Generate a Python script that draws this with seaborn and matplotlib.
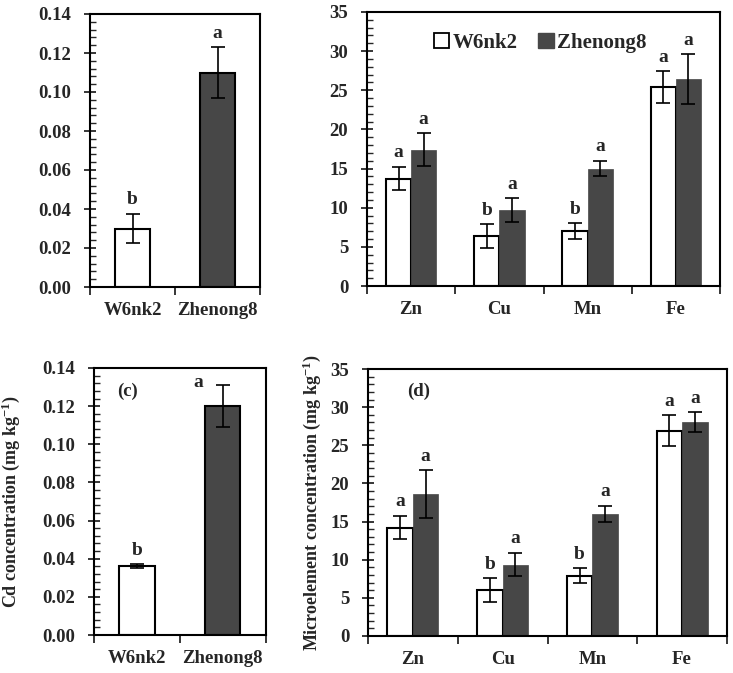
import numpy as np
import pandas as pd
import seaborn as sns
import matplotlib.pyplot as plt
from matplotlib.ticker import MultipleLocator, FormatStrFormatter
from matplotlib.patches import Patch

# cultivars and elements
cultivars = ["W6nk2", "Zhenong8"]
elements = ["Zn", "Cu", "Mn", "Fe"]

# (a) Cd, top-left
cd_a = [0.030, 0.110]
cd_a_err = [0.0075, 0.013]
cd_a_sig = ["b", "a"]

# (b) microelements, top-right
w6_b = [13.7, 6.4, 7.0, 25.4]
w6_b_err = [1.5, 1.5, 1.0, 2.0]
zh_b = [17.4, 9.7, 15.0, 26.4]
zh_b_err = [2.1, 1.5, 1.0, 3.2]
w6_b_sig = ["a", "b", "b", "a"]
zh_b_sig = ["a", "a", "a", "a"]

# (c) Cd, bottom-left
cd_c = [0.036, 0.120]
cd_c_err = [0.001, 0.011]
cd_c_sig = ["b", "a"]

# (d) microelements, bottom-right
w6_d = [14.2, 6.0, 7.9, 26.9]
w6_d_err = [1.55, 1.55, 1.0, 2.05]
zh_d = [18.6, 9.35, 16.0, 28.0]
zh_d_err = [3.1, 1.55, 1.05, 1.3]
w6_d_sig = ["a", "b", "b", "a"]
zh_d_sig = ["a", "a", "a", "a"]

WHITE = "#ffffff"
DARK = "#474747"

sns.set_style("ticks")
plt.rcParams["font.family"] = ["Liberation Serif", "DejaVu Serif"]
plt.rcParams["font.weight"] = "bold"
plt.rcParams["mathtext.fontset"] = "custom"
plt.rcParams["mathtext.rm"] = "Liberation Serif:bold"
plt.rcParams["mathtext.it"] = "Liberation Serif:bold"
plt.rcParams["mathtext.bf"] = "Liberation Serif:bold"
plt.rcParams["axes.linewidth"] = 1.5

FS = 13.5


def style_axes(ax, ncat, ymax, ystep, yminor, fmt):
    ax.set_xlim(-0.5, ncat - 0.5)
    ax.set_ylim(0, ymax)
    for s in ax.spines.values():
        s.set_visible(True)
        s.set_color("black")
        s.set_linewidth(1.5)
    ax.yaxis.set_major_locator(MultipleLocator(ystep))
    ax.yaxis.set_minor_locator(MultipleLocator(yminor))
    ax.yaxis.set_major_formatter(FormatStrFormatter(fmt))
    ax.tick_params(axis="y", which="major", direction="inout", length=9, width=1.3,
                   labelsize=FS, pad=9, right=False)
    ax.tick_params(axis="y", which="minor", direction="in", length=4, width=1.0, right=False)
    # x: boundary ticks, labels on minor ticks at the category centres
    ax.set_xticks(np.arange(-0.5, ncat, 1.0))
    ax.set_xticklabels([])
    ax.set_xticks(np.arange(ncat), minor=True)
    ax.tick_params(axis="x", which="major", direction="out", length=6, width=1.3, top=False)
    ax.tick_params(axis="x", which="minor", length=0, labelsize=FS, pad=11, top=False)
    ax.set_xlabel("")
    ax.set_ylabel("")
    for lab in ax.get_yticklabels() + ax.get_xticklabels(minor=True):
        lab.set_fontweight("bold")


def add_err_and_letters(ax, bars, vals, errs, sigs, ymax):
    for b, v, e, s in zip(bars, vals, errs, sigs):
        xc = b.get_x() + b.get_width() / 2
        ax.errorbar(xc, v, yerr=e, fmt="none", ecolor="black", elinewidth=1.2,
                    capsize=5, capthick=1.2, zorder=5)
        if v + e > 0.9 * ymax:
            # no room above the bar: put the letter to the left of the cap
            ax.annotate(s, (xc, ymax), xytext=(-18, -4), textcoords="offset points",
                        ha="center", va="top", fontsize=FS + 0.5, fontweight="bold")
        else:
            ax.annotate(s, (xc, v + e), xytext=(0, 4), textcoords="offset points",
                        ha="center", va="bottom", fontsize=FS + 0.5, fontweight="bold")


def cd_panel(ax, vals, errs, sigs):
    df = pd.DataFrame({"cultivar": cultivars, "cd": vals})
    sns.barplot(data=df, x="cultivar", y="cd", hue="cultivar", order=cultivars,
                hue_order=cultivars, palette=[WHITE, DARK], width=0.41,
                edgecolor="black", linewidth=1.5, legend=False, errorbar=None, ax=ax)
    bars = [c[0] for c in ax.containers]
    add_err_and_letters(ax, bars, vals, errs, sigs, 0.14)
    style_axes(ax, 2, 0.14, 0.02, 0.004, "%.2f")
    ax.set_xticklabels(cultivars, minor=True, fontweight="bold")


def micro_panel(ax, w6, w6e, zh, zhe, w6s, zhs):
    df = pd.DataFrame({
        "element": elements * 2,
        "cultivar": [cultivars[0]] * 4 + [cultivars[1]] * 4,
        "conc": w6 + zh,
    })
    sns.barplot(data=df, x="element", y="conc", hue="cultivar", order=elements,
                hue_order=cultivars, palette=[WHITE, DARK], width=0.57, gap=0,
                errorbar=None, legend=False, ax=ax)
    white_bars, dark_bars = ax.containers[0], ax.containers[1]
    for b in white_bars:
        b.set_edgecolor("black")
        b.set_linewidth(1.5)
    for b in dark_bars:
        b.set_edgecolor(DARK)
        b.set_linewidth(0.5)
    add_err_and_letters(ax, white_bars, w6, w6e, w6s, 35)
    add_err_and_letters(ax, dark_bars, zh, zhe, zhs, 35)
    style_axes(ax, 4, 35, 5, 1, "%d")
    ax.set_xticklabels(elements, minor=True, fontweight="bold")


fig = plt.figure(figsize=(7.33, 6.73), dpi=100)
W, H = 733.0, 673.0


def add_ax(l, r, t, b):
    return fig.add_axes([l / W, 1 - b / H, (r - l) / W, (b - t) / H])


ax_a = add_ax(90, 260, 14, 287)
ax_b = add_ax(367, 720, 12, 286)
ax_c = add_ax(94, 265.7, 368, 635)
ax_d = add_ax(368, 727, 369, 636)

cd_panel(ax_a, cd_a, cd_a_err, cd_a_sig)
micro_panel(ax_b, w6_b, w6_b_err, zh_b, zh_b_err, w6_b_sig, zh_b_sig)
cd_panel(ax_c, cd_c, cd_c_err, cd_c_sig)
micro_panel(ax_d, w6_d, w6_d_err, zh_d, zh_d_err, w6_d_sig, zh_d_sig)

# legend in (b)
handles = [Patch(facecolor=WHITE, edgecolor="black", linewidth=1.3),
           Patch(facecolor=DARK, edgecolor=DARK)]
ax_b.legend(handles, cultivars, loc="center", bbox_to_anchor=(0.49, 0.887), ncol=2,
            frameon=False, handlelength=0.75, handleheight=0.75, handletextpad=0.15,
            columnspacing=1.0, prop={"family": "Liberation Serif", "weight": "bold", "size": 15})

# panel labels
ax_c.text(0.134, 0.914, "(c)", transform=ax_c.transAxes, ha="left", va="center",
          fontsize=FS, fontweight="bold")
ax_d.text(0.109, 0.918, "(d)", transform=ax_d.transAxes, ha="left", va="center",
          fontsize=FS, fontweight="bold")

# y labels
ax_c.set_ylabel("Cd concentration (mg kg$^{-1}$)", fontsize=13, fontweight="bold")
ax_c.yaxis.set_label_coords(-0.42, 0.5)
ax_d.set_ylabel("Microelement concentration (mg kg$^{-1}$)", fontsize=13, fontweight="bold")
ax_d.yaxis.set_label_coords(-0.125, 0.5)

fig.savefig("out.png", dpi=100, facecolor="white")
